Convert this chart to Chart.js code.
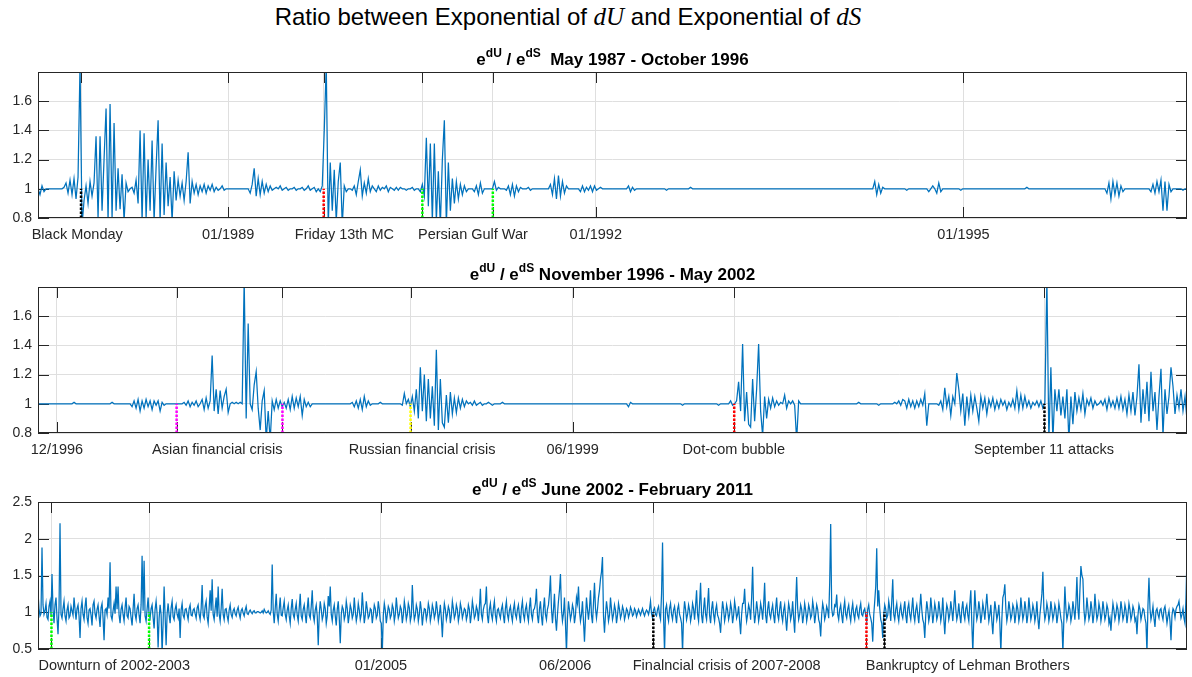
<!DOCTYPE html>
<html>
<head>
<meta charset="utf-8">
<script src="https://cdn.jsdelivr.net/npm/chart.js@4.4.1/dist/chart.umd.min.js"></script>
<style>
    body { margin: 0; background: #fff; width: 1192px; height: 677px; position: relative; overflow: hidden; font-family: "Liberation Sans", Arial, sans-serif; }
    #title { position: absolute; top: 3px; left: 0; width: 1136px; text-align: center; font-size: 24px; line-height: 28px; color: #000; white-space: nowrap; }
    #title i { font-family: "Liberation Serif", serif; font-size: 25px; }
    canvas { position: absolute; left: 0; }
</style>
</head>
<body>
<div id="title">Ratio between Exponential of <i>dU</i> and Exponential of <i>dS</i></div>
<canvas id="c1" width="1192" height="210" style="top:40px"></canvas>
<canvas id="c2" width="1192" height="210" style="top:255px"></canvas>
<canvas id="c3" width="1192" height="207" style="top:470px"></canvas>
<script>
// ===== DATA =====
// ratio e^dU / e^dS, sampled evenly over each period (decimal years)

const p1Start = 1987.449, p1End = 1996.824;
const p1Values = [
    1.00,0.96,1.02,0.98,1.00,1.00,1.00,1.00,1.00,1.00,1.00,1.00,1.00,1.01,1.04,0.97,1.06,0.96,1.07,0.93,
    1.08,1.85,0.75,0.92,1.02,0.90,1.05,0.95,1.04,1.36,0.80,1.36,0.85,1.20,1.55,0.78,1.58,0.80,1.45,0.85,
    1.14,0.86,1.10,0.78,1.04,0.98,1.00,1.01,0.97,1.06,0.90,1.40,0.78,1.38,0.80,1.20,0.85,1.33,0.78,1.15,
    1.47,0.78,1.31,0.82,1.18,0.88,1.08,0.78,1.12,0.92,1.06,0.95,1.04,0.92,1.05,1.25,0.90,1.05,0.97,1.03,
    0.96,1.02,0.98,1.03,0.97,1.02,0.99,1.03,0.98,1.01,0.99,1.00,1.02,0.99,1.00,1.00,1.00,1.00,1.00,1.00,
    1.00,1.00,1.00,1.00,1.00,1.00,0.97,1.03,1.14,0.95,1.07,0.96,1.05,0.97,1.03,0.98,1.02,0.99,1.00,1.01,
    1.00,1.02,0.99,1.00,1.01,0.99,1.00,1.00,1.01,0.99,1.00,1.00,1.01,0.99,1.00,1.02,0.99,1.00,1.01,0.98,
    1.00,0.98,1.02,1.40,1.85,0.75,1.18,0.85,1.13,0.78,1.05,1.18,0.75,1.02,0.98,1.00,1.00,0.99,1.02,0.96,
    1.05,1.13,0.95,1.04,0.97,1.07,0.98,1.02,1.00,0.98,1.02,0.99,1.01,1.00,1.02,0.98,1.01,1.00,0.99,1.01,
    0.99,1.01,1.00,1.00,0.99,1.00,1.00,1.01,0.99,1.00,1.00,0.98,1.03,0.95,1.35,0.88,1.31,0.78,1.31,0.78,
    1.12,0.75,1.20,1.47,0.75,1.18,0.85,1.07,0.90,1.05,0.93,1.03,0.96,1.02,0.98,1.00,1.00,1.00,0.98,1.02,
    0.96,1.04,0.97,1.00,1.00,1.00,1.00,1.00,1.05,0.99,1.01,1.00,1.00,1.00,0.99,1.02,0.96,1.03,0.95,1.02,
    0.98,1.01,1.00,1.00,1.00,1.01,0.99,1.00,1.00,1.00,1.00,1.00,1.00,1.00,1.00,1.00,1.03,0.96,1.07,0.93,
    1.09,0.95,1.05,0.97,1.02,1.00,1.00,1.00,1.00,1.00,1.00,0.98,1.02,0.98,1.01,0.99,1.02,0.98,1.02,0.99,
    1.00,1.01,1.00,1.00,1.00,1.00,1.00,1.00,1.00,1.00,1.00,1.00,1.00,1.00,1.00,1.02,0.98,1.01,0.99,1.00,
    1.00,1.00,1.00,1.00,1.00,1.00,1.00,1.00,1.00,1.00,1.00,1.00,1.00,1.00,0.99,1.00,1.00,1.00,1.00,1.00,
    1.00,1.00,1.00,1.00,1.00,1.00,1.01,1.00,1.00,1.00,1.00,1.00,1.00,1.00,1.00,1.00,1.00,1.00,1.00,1.00,
    1.00,1.00,1.00,1.00,1.00,1.00,1.00,1.00,1.00,1.00,1.00,1.00,1.00,1.00,1.00,1.00,1.00,1.00,1.00,1.00,
    1.00,1.00,1.00,1.00,1.00,1.00,1.00,1.00,1.00,1.00,1.00,1.00,1.00,1.00,1.00,1.00,1.00,1.00,1.00,1.00,
    1.00,1.00,1.00,1.00,1.00,1.00,1.00,1.00,1.00,1.00,1.00,1.00,1.00,1.00,1.00,1.00,1.00,1.00,1.00,1.00,
    1.00,1.00,1.00,1.00,1.00,1.00,1.00,1.00,1.00,1.00,1.00,1.00,1.00,1.00,1.00,1.00,1.00,1.00,1.05,0.96,
    1.03,0.97,1.01,1.00,1.00,1.00,1.00,1.00,1.00,1.00,1.00,1.00,1.00,1.00,0.99,1.00,1.00,1.00,1.00,1.00,
    1.00,1.00,1.00,1.00,1.00,0.98,1.00,1.02,1.00,0.97,1.04,0.98,1.00,1.00,1.00,1.00,1.00,1.00,1.00,1.00,
    1.00,0.99,1.00,1.00,1.00,1.00,1.00,1.00,1.00,1.00,1.00,1.00,1.00,1.00,1.00,1.00,1.00,1.00,1.00,1.00,
    1.00,1.00,1.00,1.00,1.00,1.00,1.00,1.00,1.00,1.00,1.00,1.00,1.00,1.00,1.01,1.00,1.00,1.00,1.00,1.00,
    1.00,1.00,1.00,1.00,1.00,1.00,1.00,1.00,1.00,1.00,1.00,1.00,1.00,1.00,1.00,1.00,1.00,1.00,1.00,1.00,
    1.00,1.00,1.00,1.00,1.00,1.00,1.00,1.00,1.00,1.00,1.00,1.00,1.00,1.00,0.97,1.04,0.93,1.05,0.96,1.04,
    0.95,1.02,0.98,1.00,1.00,1.00,1.00,1.00,1.00,1.00,1.00,1.00,1.00,1.00,1.00,1.00,0.98,1.03,0.97,1.05,
    0.98,1.06,0.85,1.05,0.85,1.03,0.98,1.00,1.00,1.00,1.00,1.00,0.99,1.00,1.00
];
const p1TickDates = [1987.80, 1989.0, 1989.78, 1990.585, 1991.16, 1992.0, 1995.0];
const p1Labels = ['Black Monday', '01/1989', 'Friday 13th MC', 'Persian Gulf War', '01/1992', '01/1995'];
const p1LabelDates = [1987.769, 1989.0, 1989.949, 1990.998, 1992.0, 1995.0];
const p1EventDates = [1987.80, 1989.78, 1990.585, 1991.16];
const p1EventColors = ['#000000', '#ff0000', '#00ff00', '#00ff00'];

const p2Start = 1996.825, p2End = 2002.395;
const p2Values = [
    1.00,1.00,1.00,1.00,1.00,1.00,1.00,1.00,1.00,1.00,1.00,1.00,1.00,1.00,1.00,1.00,1.00,1.00,1.01,1.00,
    1.00,1.00,1.00,1.00,1.00,1.00,1.00,1.00,1.00,1.00,1.00,1.00,1.00,1.00,1.00,1.00,1.00,1.01,1.00,1.00,
    1.00,1.00,1.00,1.00,1.00,1.00,1.00,0.98,1.02,0.97,1.03,0.95,1.02,0.97,1.03,0.98,1.02,0.96,1.02,0.99,
    1.02,0.95,1.01,0.99,1.00,1.00,1.00,1.00,1.00,1.00,1.00,1.00,1.00,1.01,0.99,1.02,0.98,1.01,0.99,1.02,
    0.98,1.00,1.03,0.96,1.04,0.97,1.02,1.33,0.95,1.10,0.93,1.09,0.97,1.05,1.10,0.94,1.00,1.01,1.00,1.01,
    1.00,1.01,1.00,1.85,0.90,1.55,1.00,0.96,1.13,1.22,0.97,0.82,1.02,1.09,0.75,0.95,0.75,1.02,0.96,1.03,
    0.97,1.02,0.98,1.01,0.97,1.03,0.96,1.05,0.97,1.04,0.98,1.05,0.92,1.03,0.98,1.01,0.98,1.00,1.00,1.00,
    1.00,1.00,1.00,1.00,1.00,1.00,1.00,1.00,1.00,1.00,1.00,1.00,1.00,1.00,1.00,1.00,1.00,1.01,0.98,1.02,
    0.97,1.03,0.96,1.05,0.98,1.02,0.99,1.00,1.00,1.00,1.00,1.01,1.00,1.00,1.00,1.00,1.00,1.00,1.00,1.00,
    1.00,1.00,0.99,1.07,1.00,1.03,0.98,1.05,0.95,1.10,0.90,1.25,0.95,1.20,0.88,1.17,0.90,1.12,0.85,1.37,
    0.82,1.17,0.87,0.84,1.06,0.87,1.08,0.93,1.04,0.94,1.04,0.97,1.03,0.98,1.02,1.00,1.01,0.99,1.02,0.99,
    1.00,1.01,0.99,1.00,1.00,1.01,1.00,0.99,1.00,1.00,1.00,1.00,1.01,1.00,1.00,1.00,1.00,1.00,1.00,1.00,
    1.00,1.00,1.00,1.00,1.00,1.00,1.00,1.00,1.00,1.00,1.00,1.00,1.00,1.00,1.00,1.00,1.00,1.00,1.00,1.00,
    1.00,1.00,1.00,1.00,1.00,1.00,1.00,1.00,1.00,1.00,1.00,1.00,1.00,1.00,1.00,1.00,1.00,1.00,1.00,1.00,
    1.00,1.00,1.00,1.00,1.00,1.00,1.00,1.00,1.00,1.00,1.00,1.00,1.00,1.00,1.00,0.98,1.01,1.00,1.00,1.00,
    1.00,1.00,1.00,1.00,1.00,1.00,1.00,1.00,1.00,1.00,1.00,1.00,1.00,1.00,1.00,1.00,1.00,1.00,1.00,1.00,
    1.00,1.00,0.99,1.00,1.00,1.00,1.00,1.00,1.00,1.00,1.00,1.00,1.00,1.00,1.00,1.00,1.00,1.00,1.00,1.00,
    0.99,1.00,1.00,1.00,1.00,1.00,1.02,0.99,1.00,1.02,1.15,0.95,1.41,0.88,1.08,0.86,0.84,1.17,0.88,1.10,
    1.41,0.95,0.78,1.05,0.90,1.03,0.97,1.04,0.98,1.02,0.99,1.01,1.00,1.06,0.97,1.02,1.00,1.02,0.99,0.75,
    1.02,1.00,1.00,1.00,1.00,1.00,1.00,1.00,1.00,1.00,1.00,1.00,1.00,1.00,1.00,1.00,1.00,1.00,1.00,1.00,
    1.00,1.00,1.00,1.00,1.00,1.00,1.00,1.00,1.00,1.00,1.01,1.00,1.00,1.00,1.00,1.00,1.00,1.00,1.00,1.00,
    0.99,1.00,1.00,1.00,1.00,1.00,1.00,1.00,1.01,1.00,1.02,0.99,1.03,1.02,0.97,1.03,0.98,1.02,0.97,1.02,
    0.98,1.03,0.99,1.07,0.85,1.00,1.00,1.00,1.00,1.00,0.99,1.02,0.96,1.11,0.98,1.05,0.92,1.05,1.00,1.21,
    1.10,0.95,1.07,0.85,1.05,0.92,1.06,0.95,1.05,0.97,0.88,1.05,0.97,1.04,0.93,1.03,0.98,1.04,0.96,1.02,
    0.97,1.03,0.99,1.02,0.96,1.01,0.98,1.03,0.97,1.09,0.96,1.06,0.97,1.05,0.98,1.02,0.97,1.01,0.99,1.02,
    0.98,1.02,0.97,1.01,1.85,0.75,1.25,0.75,1.10,0.95,1.10,0.92,1.05,0.90,1.10,0.75,1.05,0.86,1.08,0.95,
    1.04,0.96,1.07,0.93,1.03,0.99,1.04,0.97,1.02,0.99,1.00,1.02,0.99,1.03,0.96,1.04,0.98,1.02,0.97,1.04,
    0.97,1.05,0.96,1.03,0.93,1.06,0.95,1.08,0.92,1.05,1.27,0.87,1.10,0.93,1.15,0.88,1.22,0.95,1.08,0.82,
    1.05,1.24,0.78,1.10,0.93,1.05,1.25,1.12,0.93,1.06,0.97,1.10,0.95,1.05,0.89
];
const p2TickDates = [1996.917, 1997.497, 1998.01, 1998.631, 1999.417, 2000.20, 2001.704];
const p2Labels = ['12/1996', 'Asian financial crisis', 'Russian financial crisis', '06/1999', 'Dot-com bubble', 'September 11 attacks'];
const p2LabelDates = [1996.917, 1997.694, 1998.687, 1999.417, 2000.198, 2001.702];
const p2EventDates = [1997.497, 1998.01, 1998.631, 2000.20, 2001.704];
const p2EventColors = ['#ff00ff', '#ff00ff', '#ffff00', '#ff0000', '#000000'];

const p3Start = 2002.376, p3End = 2011.169;
const p3Values = [
    1.27,1.05,0.95,0.98,1.88,1.10,0.97,1.02,1.12,0.93,0.90,1.08,1.15,0.96,1.52,1.04,0.85,1.10,1.20,0.92,0.70,1.06,2.21,0.97,0.92,1.05,1.15,0.95,0.88,1.03,1.10,0.92,0.95,1.08,1.02,0.96,1.20,1.04,0.90,1.05,
    1.10,0.95,0.65,1.05,1.15,0.97,0.90,1.08,1.20,0.93,0.85,1.03,1.05,0.96,0.82,1.10,1.15,0.98,0.92,1.04,1.10,0.95,0.80,1.06,1.12,0.92,0.62,1.03,1.05,0.97,1.20,1.05,1.68,0.95,0.90,1.02,1.12,0.98,1.35,1.04,
    1.35,0.96,0.85,1.04,1.10,0.97,0.88,1.06,1.20,0.95,0.92,1.08,1.05,0.93,0.82,1.04,1.25,0.97,0.90,1.05,1.10,0.96,0.85,1.10,1.77,1.02,1.70,0.95,0.88,1.04,1.20,0.96,0.92,1.05,1.10,0.93,0.78,1.04,1.15,0.98,
    0.52,0.92,1.10,0.97,0.45,0.85,1.35,0.95,0.55,0.98,1.12,0.96,0.85,1.06,1.15,0.94,0.90,1.04,1.10,0.97,0.92,1.05,0.65,1.03,1.12,0.96,0.92,1.04,1.05,0.97,0.90,1.05,1.10,0.96,0.95,1.03,1.05,0.98,0.92,1.06,
    1.10,0.97,0.90,1.05,1.37,0.96,0.92,1.08,1.15,0.94,0.85,1.06,1.30,1.02,1.45,0.97,0.90,1.05,1.20,0.94,1.35,0.98,0.88,1.05,1.32,0.97,0.90,1.04,1.05,0.95,0.88,1.03,1.10,0.97,0.93,1.02,1.05,0.98,0.95,1.03,
    1.07,0.98,0.92,1.02,1.05,0.99,0.95,1.03,1.08,0.98,0.97,1.01,1.03,1.00,0.98,1.01,1.02,0.99,0.99,1.01,1.01,1.00,0.99,1.00,1.02,0.99,1.04,1.01,0.99,1.00,1.02,0.99,0.97,1.03,1.65,1.02,0.85,1.05,1.25,0.97,
    0.88,1.04,1.20,0.96,0.95,1.06,1.15,0.97,0.90,1.03,1.10,0.95,0.85,1.05,1.18,0.97,0.92,1.04,1.12,0.96,0.88,1.06,1.25,0.95,0.90,1.04,1.10,0.97,0.85,1.05,1.20,0.96,0.92,1.08,1.30,0.96,0.88,1.03,1.10,0.95,
    0.55,0.97,1.15,1.04,0.90,0.96,1.12,1.05,0.85,0.95,1.22,1.08,1.35,0.97,0.88,1.03,1.10,0.95,0.82,1.04,1.15,0.92,0.58,0.97,1.08,1.04,0.90,0.96,1.15,1.05,0.85,0.96,1.10,1.04,0.92,0.97,1.20,1.02,0.88,0.96,
    1.12,1.03,0.90,0.97,1.27,1.05,0.85,0.96,1.15,1.04,0.92,0.95,1.05,1.03,0.85,0.97,1.10,1.05,0.92,0.96,1.15,1.04,0.88,0.85,0.45,0.96,1.12,1.03,0.85,0.97,1.08,1.04,0.92,0.96,1.10,1.05,0.88,0.97,1.20,1.04,
    0.92,0.97,1.08,1.04,0.85,0.96,1.15,1.05,0.90,0.97,1.12,1.06,0.88,0.95,1.37,1.05,0.90,0.96,1.10,1.04,0.88,0.97,1.15,1.03,0.82,0.96,1.05,1.04,0.90,0.97,1.12,1.05,0.88,0.96,1.10,1.04,0.92,0.98,1.15,1.03,
    0.88,0.97,1.10,0.92,0.66,0.96,1.12,1.04,0.90,0.97,1.08,1.03,0.85,0.96,1.15,1.05,0.92,0.97,1.10,1.04,0.88,0.96,1.12,1.05,0.92,0.98,1.05,1.03,0.90,0.96,1.10,1.04,0.85,0.97,1.15,1.05,0.92,0.96,1.08,1.03,
    0.88,1.06,1.32,0.97,0.90,1.04,1.10,1.12,1.35,0.96,0.85,1.04,1.12,0.97,0.90,1.05,1.15,0.96,0.88,1.03,1.05,0.97,0.92,1.04,1.10,0.96,0.85,1.05,1.15,0.97,0.90,1.03,1.08,0.96,0.88,1.04,1.12,0.97,0.92,1.04,
    1.10,0.96,0.85,1.05,1.15,0.97,0.90,1.04,1.10,0.96,0.88,1.06,1.20,0.97,0.90,1.03,1.05,1.12,1.32,0.96,0.85,1.04,1.15,0.95,0.82,1.05,1.20,0.97,0.90,1.04,1.10,1.25,1.50,1.05,0.85,1.03,1.25,0.92,0.75,0.97,
    1.15,1.30,1.52,1.04,0.88,0.98,1.20,0.85,0.45,0.92,1.15,1.03,0.90,0.97,1.10,1.04,0.85,0.96,1.20,1.12,1.35,1.02,0.88,0.97,1.15,0.88,0.60,0.92,1.20,1.04,0.90,1.05,1.30,0.96,0.85,1.12,1.40,1.05,0.92,1.04,
    1.20,1.30,1.45,1.55,1.75,0.95,0.72,0.97,1.15,1.03,0.88,0.96,1.20,1.04,0.90,0.97,1.10,1.03,0.85,0.96,1.12,1.04,0.92,0.97,1.08,1.03,0.90,0.96,1.05,1.02,0.93,0.98,1.07,1.03,0.95,0.97,1.05,1.02,0.94,0.99,
    1.04,1.00,0.96,1.01,1.05,0.99,0.95,1.00,1.03,1.01,0.97,1.04,1.15,0.98,0.92,1.03,1.06,0.97,0.95,1.04,1.08,0.96,0.90,1.25,1.95,0.95,0.45,1.04,1.10,0.96,0.88,1.05,1.12,0.97,0.90,1.03,1.08,0.96,0.85,1.04,
    1.10,0.97,0.92,0.85,0.45,0.96,1.15,1.04,0.90,0.97,1.10,1.03,0.88,0.96,1.12,1.05,0.90,1.08,1.30,0.97,0.88,1.12,1.40,0.96,0.85,1.04,1.20,0.97,0.90,1.10,1.33,0.96,0.85,1.04,1.15,0.97,0.88,1.03,1.10,0.96,
    0.92,0.85,0.72,0.97,1.15,1.04,0.88,0.96,1.10,1.03,0.90,0.97,1.12,1.04,0.85,0.96,1.15,1.05,0.92,0.97,1.08,0.88,0.70,0.97,1.12,1.12,1.32,1.02,0.88,0.97,1.10,1.04,0.90,1.20,1.62,1.04,0.85,0.97,1.15,1.03,
    0.88,0.97,1.12,1.04,0.90,1.10,1.40,0.96,0.85,1.04,1.15,0.97,0.92,1.03,1.10,0.96,0.85,1.05,1.20,0.97,0.90,1.04,1.15,0.96,0.88,1.03,1.10,0.92,0.75,0.96,1.12,1.04,0.90,0.97,1.15,0.92,0.72,1.10,1.48,1.05,
    0.90,0.97,1.10,1.04,0.85,0.96,1.12,1.03,0.88,0.97,1.10,1.04,0.92,0.96,1.15,1.05,0.85,0.97,1.10,1.04,0.90,0.85,0.67,0.97,1.12,1.04,0.90,0.96,1.08,1.03,0.92,1.40,2.20,1.05,0.95,0.97,1.10,1.08,1.24,0.97,
    0.90,1.04,1.10,0.96,0.85,1.05,1.15,0.97,0.92,1.04,1.10,0.96,0.88,1.03,1.12,0.97,0.90,1.04,1.08,0.96,0.92,1.05,1.12,0.97,0.95,1.02,1.05,0.96,0.88,1.04,1.10,0.97,0.92,0.85,0.60,0.96,1.15,1.35,1.87,1.08,
    1.30,1.05,0.90,0.85,0.65,0.97,1.10,1.04,0.92,0.96,1.15,1.05,0.88,1.15,1.45,0.97,0.90,1.04,1.12,0.96,0.88,1.03,1.10,0.97,0.92,1.04,1.15,0.96,0.85,1.05,1.12,0.97,0.90,1.04,1.20,0.96,0.88,1.03,1.10,0.97,
    0.85,1.05,1.25,1.04,0.90,0.85,0.65,0.97,1.15,1.04,0.88,0.96,1.20,1.05,0.85,0.97,1.12,1.04,0.90,0.96,1.15,1.03,0.88,0.97,1.20,0.92,0.70,0.96,1.10,1.04,0.90,0.97,1.15,1.03,0.88,1.08,1.30,1.04,0.90,0.97,
    1.12,0.96,0.85,1.04,1.15,0.97,0.90,1.05,1.10,0.96,0.88,1.12,1.30,0.85,0.45,0.92,1.30,1.05,0.90,0.97,1.15,1.04,0.85,0.96,1.12,1.03,0.90,1.08,1.25,1.04,0.88,0.97,1.10,0.88,0.70,0.96,1.15,1.04,0.90,0.97,
    1.10,0.85,0.45,0.90,1.20,1.25,1.38,1.05,0.88,0.97,1.15,1.04,0.90,0.96,1.10,1.05,0.85,0.97,1.12,1.04,0.88,0.96,1.20,1.05,0.90,0.97,1.15,1.04,0.85,0.96,1.20,1.05,0.90,0.97,1.10,1.03,0.88,0.96,1.15,0.92,
    0.77,0.96,1.10,1.25,1.55,1.05,0.90,0.97,1.12,1.04,0.88,0.96,1.15,1.03,0.90,0.97,1.10,1.04,0.85,0.96,1.12,1.03,0.92,0.85,0.45,0.92,1.35,1.05,0.90,0.97,1.10,1.04,0.88,0.96,1.15,1.03,0.90,1.12,1.48,1.05,
    0.90,1.30,1.63,1.50,1.45,1.04,0.88,0.97,1.20,1.05,0.90,0.96,1.15,1.04,0.85,0.97,1.25,1.05,0.90,0.96,1.12,1.04,0.88,0.97,1.15,1.03,0.90,0.96,1.10,1.04,0.85,0.92,0.75,0.96,1.12,1.03,0.90,0.97,1.10,1.04,
    0.88,0.97,1.15,1.04,0.90,0.96,1.10,1.03,0.85,0.97,1.12,1.04,0.90,0.96,1.08,1.03,0.88,0.92,0.70,0.96,1.10,1.04,0.90,0.97,1.05,1.03,0.92,0.85,0.45,1.10,1.47,1.05,0.90,0.97,1.08,0.92,0.80,1.02,1.05,0.97,
    0.92,1.03,1.05,0.96,0.90,1.04,1.08,0.97,0.85,0.95,1.02,0.88,0.62,0.96,1.05,1.02,0.93,1.04,1.08,1.10,1.15,1.02,0.92,0.97,1.05,0.92,0.85,1.20,1.77
];
const p3TickDates = [2002.479, 2003.226, 2005.0, 2006.417, 2007.085, 2008.716, 2008.854];
const p3Labels = ['Downturn of 2002-2003', '01/2005', '06/2006', 'Finalncial crisis of 2007-2008', 'Bankruptcy of Lehman Brothers'];
const p3LabelDates = [2002.959, 2005.0, 2006.41, 2007.646, 2009.491];
const p3EventDates = [2002.479, 2003.226, 2007.085, 2008.716, 2008.854];
const p3EventColors = ['#00ff00', '#00ff00', '#000000', '#ff0000', '#000000'];

const yTicksSmall = [0.8, 1.0, 1.2, 1.4, 1.6];
const yTicksLarge = [0.5, 1.0, 1.5, 2.0, 2.5];

// ===== STYLE =====

const LINE_BLUE = '#0072bd';
const AXIS_COLOR = '#262626';
const GRID_COLOR = '#dfdfdf';
const FONT = '"Liberation Sans", Arial, sans-serif';

// ticks inside the box, box outline, x labels and the panel title
const panelDecor = {
    id: 'panelDecor',
    beforeDatasetsDraw(chart, args, opts) {
        const { ctx, chartArea: a, scales: { x, y } } = chart;
        const tl = 11;
        ctx.save();
        ctx.strokeStyle = AXIS_COLOR;
        ctx.lineWidth = 1;
        ctx.beginPath();
        opts.tickDates.forEach((d) => {
            const px = Math.round(x.getPixelForValue(d)) + 0.5;
            ctx.moveTo(px, a.top);
            ctx.lineTo(px, a.top + tl);
            ctx.moveTo(px, a.bottom);
            ctx.lineTo(px, a.bottom - tl);
        });
        y.ticks.forEach((t) => {
            const py = Math.round(y.getPixelForValue(t.value)) + 0.5;
            ctx.moveTo(a.left, py);
            ctx.lineTo(a.left + tl, py);
            ctx.moveTo(a.right, py);
            ctx.lineTo(a.right - tl, py);
        });
        ctx.stroke();
        ctx.restore();
    },
    afterDraw(chart, args, opts) {
        const { ctx, chartArea: a, scales: { x } } = chart;
        ctx.save();
        ctx.strokeStyle = AXIS_COLOR;
        ctx.lineWidth = 1;
        ctx.strokeRect(a.left + 0.5, a.top + 0.5, a.right - a.left - 1, a.bottom - a.top - 1);

        ctx.fillStyle = AXIS_COLOR;
        ctx.font = `14.5px ${FONT}`;
        ctx.textAlign = 'center';
        ctx.textBaseline = 'middle';
        opts.labels.forEach((txt, i) => {
            ctx.fillText(txt, x.getPixelForValue(opts.labelDates[i]), a.bottom + 16.5);
        });

        // title: e^dU / e^dS  period
        ctx.fillStyle = '#000';
        ctx.textAlign = 'left';
        ctx.textBaseline = 'alphabetic';
        const parts = [
            ['e', 17, 0], ['dU', 12, 8], [' / e', 17, 0], ['dS', 12, 8], [opts.period, 17, 0],
        ];
        let w = 0;
        parts.forEach((p) => {
            ctx.font = `bold ${p[1]}px ${FONT}`;
            w += ctx.measureText(p[0]).width;
        });
        let cx = (a.left + a.right) / 2 - w / 2;
        const base = a.top - 7.5;
        parts.forEach((p) => {
            ctx.font = `bold ${p[1]}px ${FONT}`;
            ctx.fillText(p[0], cx, base - p[2]);
            cx += ctx.measureText(p[0]).width;
        });
        ctx.restore();
    },
};

function fmtTick(v) {
    return String(Number(v.toFixed(1)));
}

function makePanel(id, cfg) {
    const step = (cfg.end - cfg.start) / (cfg.values.length - 1);
    const series = cfg.values.map((v, i) => ({ x: cfg.start + i * step, y: v }));

    const events = cfg.eventDates.map((d, i) => ({
        data: [{ x: d, y: cfg.yMin }, { x: d, y: 1 }],
        borderColor: cfg.eventColors[i],
        borderWidth: 2.5,
        borderDash: [2.5, 1.5],
        pointRadius: 0,
        order: 0,
    }));

    const canvas = document.getElementById(id);
    return new Chart(canvas, {
        type: 'line',
        data: {
            datasets: [
                ...events,
                {
                    data: series,
                    borderColor: LINE_BLUE,
                    borderWidth: 1.25,
                    pointRadius: 0,
                    tension: 0,
                    fill: false,
                    order: 1,
                },
            ],
        },
        options: {
            responsive: false,
            animation: false,
            devicePixelRatio: 1,
            events: [],
            layout: { padding: { top: 32, bottom: canvas.height - 32 - cfg.plotH, left: 0, right: 5 } },
            plugins: {
                legend: { display: false },
                tooltip: { enabled: false },
                panelDecor: {
                    tickDates: cfg.tickDates,
                    labels: cfg.labels,
                    labelDates: cfg.labelDates,
                    period: cfg.period,
                },
            },
            scales: {
                x: {
                    type: 'linear',
                    min: cfg.start,
                    max: cfg.end,
                    afterBuildTicks: (s) => { s.ticks = cfg.tickDates.map((v) => ({ value: v })); },
                    afterFit: (s) => { s.height = 0; },
                    ticks: { display: false },
                    grid: { color: GRID_COLOR, drawTicks: false },
                    border: { display: false },
                },
                y: {
                    min: cfg.yMin,
                    max: cfg.yMax,
                    afterBuildTicks: (s) => { s.ticks = cfg.yTicks.map((v) => ({ value: v })); },
                    afterFit: (s) => { s.width = 38; },
                    ticks: {
                        padding: 6,
                        color: AXIS_COLOR,
                        font: { family: FONT, size: 14 },
                        callback: fmtTick,
                    },
                    grid: { color: GRID_COLOR, drawTicks: false },
                    border: { display: false },
                },
            },
        },
        plugins: [panelDecor],
    });
}

// ===== INIT =====

makePanel('c1', {
    values: p1Values, start: p1Start, end: p1End,
    yMin: 0.8, yMax: 1.8, yTicks: yTicksSmall, plotH: 146,
    tickDates: p1TickDates, labels: p1Labels, labelDates: p1LabelDates,
    eventDates: p1EventDates, eventColors: p1EventColors,
    period: '  May 1987 - October 1996',
});

makePanel('c2', {
    values: p2Values, start: p2Start, end: p2End,
    yMin: 0.8, yMax: 1.8, yTicks: yTicksSmall, plotH: 146,
    tickDates: p2TickDates, labels: p2Labels, labelDates: p2LabelDates,
    eventDates: p2EventDates, eventColors: p2EventColors,
    period: ' November 1996 - May 2002',
});

makePanel('c3', {
    values: p3Values, start: p3Start, end: p3End,
    yMin: 0.5, yMax: 2.5, yTicks: yTicksLarge, plotH: 147,
    tickDates: p3TickDates, labels: p3Labels, labelDates: p3LabelDates,
    eventDates: p3EventDates, eventColors: p3EventColors,
    period: ' June 2002 - February 2011',
});
</script>
</body>
</html>
